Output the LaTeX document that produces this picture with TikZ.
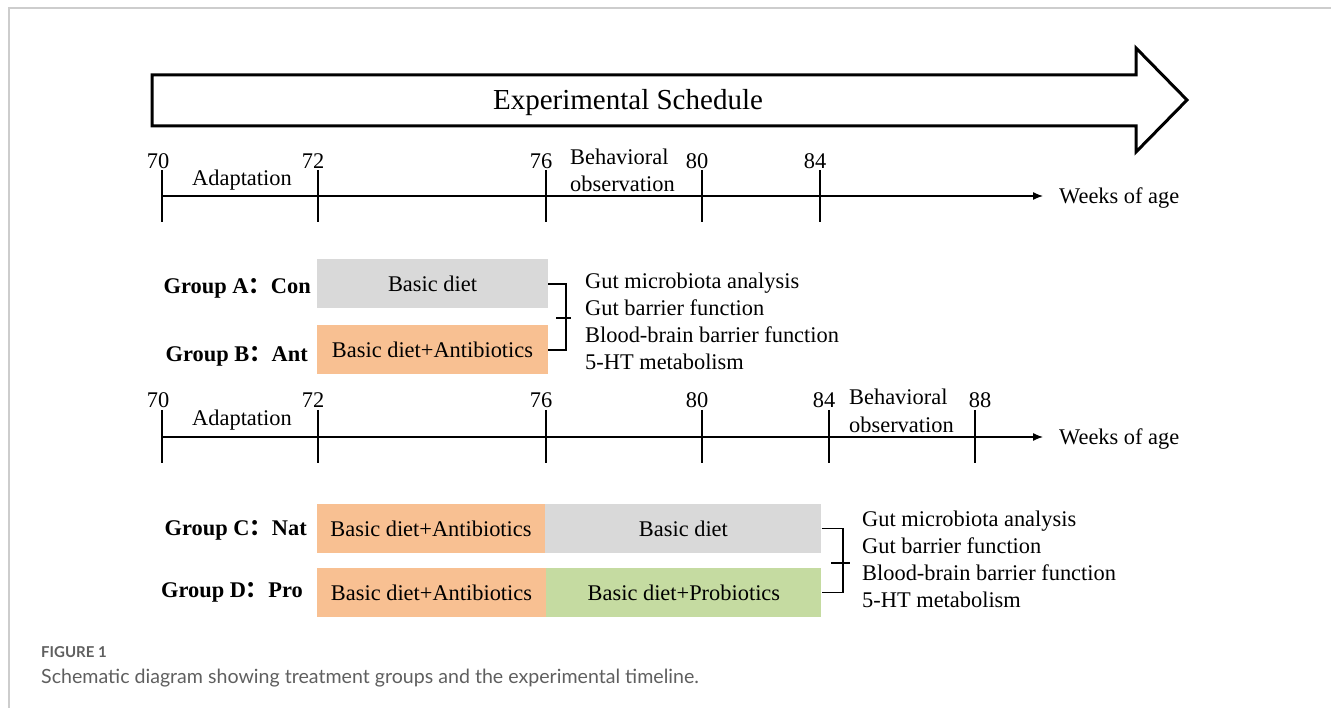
\documentclass[tikz,border=0pt]{standalone}
\usepackage{fontspec}
\setmainfont{Liberation Serif}
\newfontfamily\capfont{Lato}
\newfontfamily\cjk{Noto Sans CJK SC}
\usetikzlibrary{positioning,arrows.meta}
\definecolor{dietgray}{RGB}{217,217,217}
\definecolor{antiorange}{RGB}{248,192,146}
\definecolor{progreen}{RGB}{197,219,161}
\definecolor{framegray}{RGB}{205,205,205}
\definecolor{capgray}{RGB}{95,95,95}
\begin{document}
\begin{tikzpicture}[x=1pt,y=-1pt,
        every node/.style={font=\fontsize{22.4}{27}\selectfont, inner sep=0pt},
        tickline/.style={draw, line width=1.3pt},
        axis/.style={draw, line width=1.3pt, -{Latex[length=10pt,width=8pt]}},
        diet/.style={minimum height=49pt, text centered},
        grp/.style={font=\fontsize{22.4}{27}\selectfont\bfseries, anchor=base east},
        brace/.style={draw, line width=1.3pt},
        lbl/.style={anchor=base west},
    ]
    \useasboundingbox (0,0) rectangle (1331,708);
    \draw[framegray, line width=2pt] (9,708) -- (9,8) -- (1331,8);

    % schedule arrow
    \draw[line width=3pt, line join=miter] (152,75) -- (1136,75) -- (1136,48) -- (1187,100)
        -- (1136,152) -- (1136,126) -- (152,126) -- cycle;
    \node[font=\fontsize{29}{34}\selectfont, anchor=base] (title) at (628,110) {Experimental Schedule};

    % first timeline
    \coordinate (s1) at (162,196);
    \coordinate (e1) at (1043,196);
    \draw[axis] (s1) -- (e1);
    \node[lbl, anchor=west] (w1) at (1059,198) {Weeks of age};
    \foreach \x/\lab/\dx in {162/70/-4,318/72/-5,546/76/-5,702/80/-5,820/84/-5}{
        \draw[tickline] (\x,170) -- (\x,222);
        \node[anchor=base] (t1-\lab) at (\x+\dx,169) {\lab};
    }
    \node[anchor=base] (ad1) at (242,186) {Adaptation};
    \node[lbl] (bh1) at (570,165) {Behavioral};
    \node[lbl] (ob1) at (570,192) {observation};

    % groups A and B
    \node[grp] (ga) at (311,294) {Group A{\cjk ：}Con};
    \node[grp] (gb) at (308,362) {Group B{\cjk ：}Ant};
    \node[diet, fill=dietgray, minimum width=231pt] (a) at (432.5,284) {Basic diet};
    \node[diet, fill=antiorange, minimum width=231pt] (b) at (432.5,350) {Basic diet+Antibiotics};
    \coordinate (ab) at (566,318);
    \draw[brace] (a.east) -- (566,284) -- (566,350) -- (b.east);
    \draw[brace] ([xshift=-10pt]ab) -- ([xshift=5pt]ab);
    \foreach \t [count=\i] in {Gut microbiota analysis, Gut barrier function,
        Blood-brain barrier function, 5-HT metabolism}
        \node[lbl] (m1-\i) at (585,262+27*\i) {\t};

    % second timeline
    \coordinate (s2) at (162,437);
    \coordinate (e2) at (1043,437);
    \draw[axis] (s2) -- (e2);
    \node[lbl, anchor=west] (w2) at (1059,439) {Weeks of age};
    \foreach \x/\lab/\dx in {162/70/-4,318/72/-5,546/76/-5,702/80/-5,829/84/-5,975/88/5}{
        \draw[tickline] (\x,410) -- (\x,463);
        \node[anchor=base] (t2-\lab) at (\x+\dx,408) {\lab};
    }
    \node[anchor=base] (ad2) at (242,426) {Adaptation};
    \node[lbl] (bh2) at (849,405) {Behavioral};
    \node[lbl] (ob2) at (849,432) {observation};

    % groups C and D
    \node[grp] (gc) at (307,535) {Group C{\cjk ：}Nat};
    \node[grp] (gd) at (303,597) {Group D{\cjk ：}Pro};
    \node[diet, fill=antiorange, minimum width=228pt] (c1) at (431,528.5) {Basic diet+Antibiotics};
    \node[diet, fill=dietgray, minimum width=276pt, right=0pt of c1] (c2) {Basic diet};
    \node[diet, fill=antiorange, minimum width=229pt] (d1) at (431.5,592.5) {Basic diet+Antibiotics};
    \node[diet, fill=progreen, minimum width=275pt, right=0pt of d1] (d2) {Basic diet+Probiotics};
    \coordinate (cd) at (843,563);
    \draw[brace] (c2.east) -- (843,528.5) -- (843,592.5) -- (d2.east);
    \draw[brace] ([xshift=-12pt]cd) -- ([xshift=7pt]cd);
    \foreach \t [count=\i] in {Gut microbiota analysis, Gut barrier function,
        Blood-brain barrier function, 5-HT metabolism}
        \node[lbl] (m2-\i) at (862,499+27*\i) {\t};

    % caption
    \node[anchor=base west, font=\capfont\bfseries\fontsize{15}{18}\selectfont, text=capgray] (fig) at (41,657) {FIGURE 1};
    \node[anchor=base west, font=\capfont\fontsize{19.6}{23}\selectfont, text=capgray] (cap) at (41,683)
        {Schematic diagram showing treatment groups and the experimental timeline.};
\end{tikzpicture}
\end{document}
